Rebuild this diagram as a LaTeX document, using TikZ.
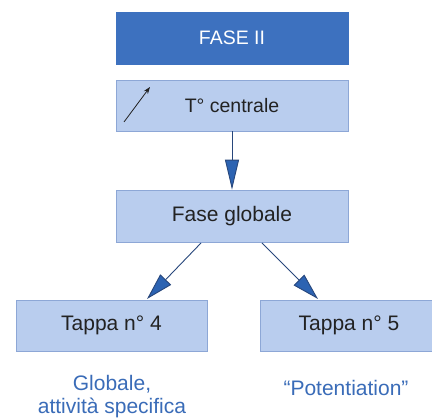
\documentclass[tikz,border=0pt]{standalone}
\usepackage{fontspec}
\setmainfont{Liberation Sans}
\usetikzlibrary{arrows.meta}
\definecolor{darkbox}{HTML}{3D71BF}
\definecolor{lightbox}{HTML}{B9CDEE}
\definecolor{boxline}{HTML}{8DA7D6}
\definecolor{arrowblue}{HTML}{2C63B2}
\definecolor{shaft}{HTML}{28477C}
\definecolor{labelblue}{HTML}{3A6CB8}
\definecolor{textgrey}{HTML}{222222}
\tikzset{
  headbox/.style={rectangle, fill=darkbox, draw=darkbox, text=white,
    minimum width=232pt, minimum height=52pt, inner sep=0pt, font=\fontsize{19.5}{22}\selectfont},
  stagebox/.style={rectangle, fill=lightbox, draw=boxline, line width=0.6pt, text=textgrey,
    minimum height=51pt, inner sep=0pt, font=\fontsize{21}{24}\selectfont},
  flow/.style={draw=shaft, line width=0.9pt,
    -{Triangle[length=27pt,width=15pt,fill=arrowblue]}, shorten >=0pt},
  note/.style={text=labelblue, align=center, font=\fontsize{21}{23}\selectfont}
}
\begin{document}
\begin{tikzpicture}[x=1pt,y=-1pt]
  \useasboundingbox (0,0) rectangle (432,419);
  \fill[white] (0,0) rectangle (432,419);

  % phase header and stages
  \node[headbox] (fase) at (232,38) {FASE II};
  \node[stagebox, minimum width=232pt, font=\fontsize{19.5}{22}\selectfont] (temp) at (232,105.5) {T° centrale};
  \node[stagebox, minimum width=232pt, minimum height=52pt] (glob) at (232,216) {Fase globale};
  \node[stagebox, minimum width=191pt] (t4) at (111.5,325.5) {Tappa n° 4};
  \node[stagebox, minimum width=178pt] (t5) at (349,325.5) {Tappa n° 5};

  % rising temperature mark
  \coordinate (up0) at (124,122);
  \coordinate (up1) at (150,87);
  \draw[line width=0.8pt, textgrey, -{Stealth[length=7pt,width=5pt]}] (up0) -- (up1);

  % connectors
  \draw[flow, -{Triangle[length=30pt,width=14pt,fill=arrowblue]}] (temp.south) -- (glob.north);
  \coordinate (gl) at (201,243);
  \coordinate (gr) at (262,243);
  \coordinate (l4) at (147,299);
  \coordinate (l5) at (318,299);
  \draw[flow] (gl) -- (l4);
  \draw[flow] (gr) -- (l5);

  % outcome notes
  \node[note] (n4) at (112,397) {Globale,\\attività specifica};
  \node[note] (n5) at (346,388) {“Potentiation”};
\end{tikzpicture}
\end{document}
